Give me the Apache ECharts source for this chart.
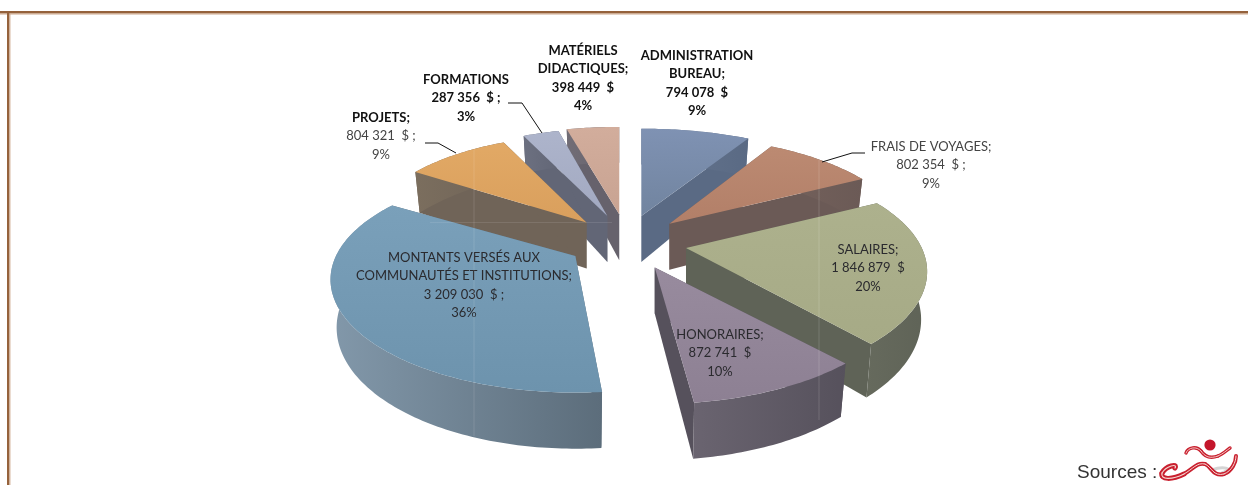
<!DOCTYPE html>
<html>
<head>
<meta charset="utf-8">
<style>html,body{margin:0;padding:0;background:#fff}#c{width:1248px;height:485px}</style>
<script src="https://cdn.jsdelivr.net/npm/echarts@6/dist/echarts.min.js"></script>
</head>
<body>
<div id="c"></div>
<script>
// ---- data ----
var categories = ['ADMINISTRATION|BUREAU;', 'FRAIS DE VOYAGES;', 'SALAIRES;', 'HONORAIRES;', 'MONTANTS VERSÉS AUX|COMMUNAUTÉS ET INSTITUTIONS;', 'PROJETS;', 'FORMATIONS', 'MATÉRIELS|DIDACTIQUES;'];
var values = [794078, 802354, 1846879, 872741, 3209030, 804321, 287356, 398449];
var percents = ['9%', '9%', '20%', '10%', '36%', '9%', '3%', '4%'];
var valueSuffix = ['', ' ;', '', '', ' ;', ' ;', ' ;', ''];

// ---- styles and layout ----
var topColors = [['#7F92B3','#71849F'], ['#BC8A72','#B27F68'], ['#ADB18D','#A6AA86'], ['#988B9E','#8D8093'], ['#7AA0BA','#6D93AD'], ['#E2A965','#D99F5D'], ['#ADB4CB','#A2A9C1'], ['#D2AD9C','#C8A392']];
var wallColors = [['#66768F','#5A6A84'], ['#75625C','#6B5A56'], ['#666A5D','#5F6357'], ['#6A6470','#56515C'], ['#8298AA','#5C6D7B'], ['#7B6E5E','#706458'], ['#6C7080','#626676'], ['#716D76','#66626C']];
var drawOrder = [7, 6, 5, 0, 1, 2, 4, 3];
var labelAnchors = [[697,56],[931,147],[868,250],[720,335],[464,258],[381,118],[466,80],[583,51]];
var labelBold = [2, 0, 0, 0, 0, 1, 2, 2]; // 2: all lines bold, 1: only the name
var apexNudge = [[-2,2],[0,2],[3,3],[3,3],[-6,1],[-3,2],[0,1],[-1,1]];
var radiusScale = [1.03, 0.98, 0.97, 1, 0.985, 0.92, 0.93, 1];
var startAngleNudge = [0, 0, 0, 0, 2.4, 0, 0, 0]; // degrees
var leaders = [
  [[822,162],[852,153],[865,153]],
  [[425,143],[438,143],[456,153]],
  [[508,103],[522,103],[542,133]]
];
var logoLoop = [
  [1175,468, 1178,463, 1166,466, 1162,473],
  [1162,473, 1160,480, 1172,480, 1184,474]
];
var logoWave = [
  [1184,474, 1193,469, 1197,462, 1205,464],
  [1205,464, 1212,467, 1213,477, 1224,474],
  [1224,474, 1232,471, 1236,462, 1236,456]
];
var logoUpper = [
  [1186,453, 1188,447, 1197,446, 1201,451],
  [1201,451, 1205,457, 1210,459, 1218,456],
  [1218,456, 1223,454, 1227,450, 1230,448]
];
var CX = 628, CY = 240, EX = 56, EY = 27;
var RX = 243, RY = 112, P = 0.22, DEPTH = 46, BOTTOM_X = 0.975;
var LINE = 18.2;

var total = values.reduce(function (a, b) { return a + b; }, 0);
var starts = [];
values.reduce(function (acc, v, i) { starts[i] = acc; return acc + v; }, 0);
function angleOf(sum) { return sum / total * Math.PI * 2; }
function fmt(v) { return String(v).replace(/\B(?=(\d{3})+$)/g, ' '); }

function project(apex, theta, r, bottom, scale) {
  var Y = -Math.cos(theta) * r;
  var k = 1 + P * Y;
  var x = RX * scale * Math.sin(theta) * r * k;
  var y = RY * Y * k;
  if (bottom) { x *= BOTTOM_X; y += DEPTH * k; }
  return [apex[0] + x, apex[1] + y];
}
function grad(c, vertical) {
  return { type: 'linear', x: 0, y: 0, x2: vertical ? 0 : 1, y2: vertical ? 1 : 0,
    colorStops: [{ offset: 0, color: c[0] }, { offset: 1, color: c[1] }] };
}
function renderSlice(params, api) {
  var i = api.value(0);
  var a0 = angleOf(starts[i]), a1 = angleOf(starts[i] + values[i]), mid = (a0 + a1) / 2;
  var apex = [CX + EX * Math.sin(mid) + apexNudge[i][0], CY - EY * Math.cos(mid) + apexNudge[i][1]];
  a0 += startAngleNudge[i] * Math.PI / 180;
  var sc = radiusScale[i];
  var n = Math.max(6, Math.ceil((a1 - a0) / (Math.PI / 180)));
  var top = [], bot = [];
  for (var s = 0; s <= n; s++) {
    var t = a0 + (a1 - a0) * s / n;
    top.push(project(apex, t, 1, false, sc));
    bot.push(project(apex, t, 1, true, sc));
  }
  var apexB = project(apex, 0, 0, true, sc);
  var kids = [];
  function wall(edge) {
    kids.push({ type: 'polygon', shape: { points: [apex, project(apex, edge, 1, false, sc), project(apex, edge, 1, true, sc), apexB] },
      style: { fill: wallColors[i][1] } });
  }
  wall(a0); wall(a1);
  kids.push({ type: 'polygon', shape: { points: top.concat(bot.slice().reverse()) }, style: { fill: grad(wallColors[i], false) } });
  kids.push({ type: 'polygon', shape: { points: [apex].concat(top) }, style: { fill: grad(topColors[i], true) } });

  var lines = categories[i].split('|').concat([fmt(values[i]) + '  $' + valueSuffix[i], percents[i]]);
  var nameLines = lines.length - 2;
  lines.forEach(function (txt, l) {
    var bold = labelBold[i] === 2 || (labelBold[i] === 1 && l < nameLines);
    kids.push({ type: 'text', z2: 50, style: {
      text: txt, x: labelAnchors[i][0], y: labelAnchors[i][1] + LINE * l,
      align: 'center', verticalAlign: 'middle',
      font: (bold ? 'bold ' : '') + '13px Lato, Carlito, sans-serif',
      fill: bold ? '#111' : (i === 5 || i === 1 ? '#444' : '#2a2a2e') } });
  });
  return { type: 'group', children: kids };
}

function curves(segs, stroke, width, z) {
  return segs.map(function (s) {
    return { type: 'bezierCurve', z: z,
      shape: { x1: s[0], y1: s[1], cpx1: s[2], cpy1: s[3], cpx2: s[4], cpy2: s[5], x2: s[6], y2: s[7] },
      style: { fill: 'none', stroke: stroke, lineWidth: width, lineCap: 'round' } };
  });
}
var graphics = [
  { type: 'rect', shape: { x: 0, y: 11, width: 1248, height: 2.4 }, style: { fill: '#95623C' } },
  { type: 'rect', shape: { x: 0, y: 13.4, width: 1248, height: 1 }, style: { fill: '#CDA88C' } },
  { type: 'rect', shape: { x: 7, y: 11, width: 2.4, height: 474 }, style: { fill: '#95623C' } },
  { type: 'rect', shape: { x: 9.4, y: 13.4, width: 1, height: 472 }, style: { fill: '#CDA88C' } },
  { type: 'text', style: { text: 'Sources :', x: 1077, y: 473, verticalAlign: 'middle', font: '19px "Liberation Sans", Arial, sans-serif', fill: '#333' } },
  { type: 'circle', z: 7, shape: { cx: 1210, cy: 445, r: 5.6 }, style: { fill: '#C4162B' } },
  { type: 'line', z: 20, shape: { x1: 474, y1: 150, x2: 474, y2: 436 }, style: { stroke: 'rgba(255,255,255,0.13)', lineWidth: 1 } },
  { type: 'line', z: 20, shape: { x1: 819, y1: 160, x2: 819, y2: 420 }, style: { stroke: 'rgba(255,255,255,0.15)', lineWidth: 1 } },
  { type: 'line', z: 20, shape: { x1: 430, y1: 222.5, x2: 612, y2: 222.5 }, style: { stroke: 'rgba(255,255,255,0.1)', lineWidth: 1 } }
];
graphics = graphics
  .concat(curves([[1212,470, 1222,466, 1236,468, 1222,473]], '#d4d4d4', 3, 5))
  .concat(curves(logoLoop, '#C9202F', 5, 6))
  .concat(curves(logoLoop, '#F6D5D0', 1.2, 7))
  .concat(curves(logoWave, '#C9202F', 4, 6))
  .concat(curves(logoWave, '#F6D5D0', 1, 7))
  .concat(curves(logoUpper, '#C9202F', 3.4, 6))
  .concat(curves(logoUpper, '#F6D5D0', 0.9, 7));
leaders.forEach(function (pts) {
  graphics.push({ type: 'polyline', z: 21, shape: { points: pts }, style: { fill: 'none', stroke: '#111', lineWidth: 1 } });
});

var chart = echarts.init(document.getElementById('c'), null, { renderer: 'canvas' });
chart.setOption({
  animation: false,
  backgroundColor: '#ffffff',
  graphic: { elements: graphics },
  series: [{
    type: 'custom',
    coordinateSystem: 'none',
    renderItem: renderSlice,
    silent: true,
    z: 10,
    encode: { value: 0 },
    data: drawOrder.map(function (i) { return [i]; })
  }]
});
</script>
</body>
</html>
